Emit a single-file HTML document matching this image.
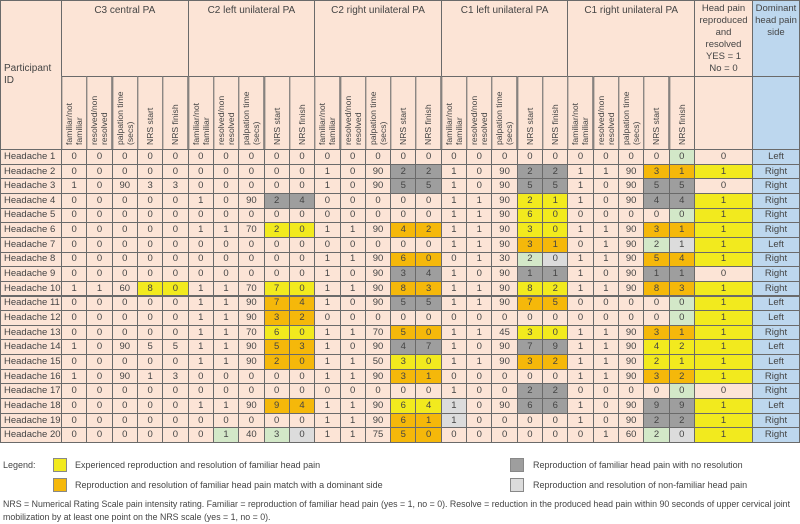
<!DOCTYPE html>
<html><head><meta charset="utf-8">
<style>
body{margin:0;width:800px;height:522px;background:#fff;font-family:"Liberation Sans",sans-serif;color:#444;position:relative;overflow:hidden}
.c{position:absolute;box-sizing:border-box;border:1px solid #6a6a6a;display:flex;align-items:center;justify-content:center;font-size:9.5px;text-align:center;line-height:1.25;background:#fce4d6}
.r{writing-mode:vertical-rl;transform:rotate(180deg);text-align:left;font-size:8.6px;line-height:1.2;justify-content:flex-start}
.lg{position:absolute;font-size:9px;color:#444;white-space:nowrap}
.sw{position:absolute;width:14px;height:14px;box-sizing:border-box;border:1px solid #888}
</style></head><body>
<div id="t"></div>
<div class="lg" style="left:3px;top:460px">Legend:</div>
<div class="sw" style="left:53px;top:458px;background:#f2ea1e"></div>
<div class="lg" style="left:75px;top:460px">Experienced reproduction and resolution of familiar head pain</div>
<div class="sw" style="left:53px;top:478px;background:#f5b80a"></div>
<div class="lg" style="left:75px;top:480px">Reproduction and resolution of familiar head pain match with a dominant side</div>
<div class="sw" style="left:510px;top:458px;background:#9e9e9e"></div>
<div class="lg" style="left:533px;top:460px">Reproduction of familiar head pain with no resolution</div>
<div class="sw" style="left:510px;top:478px;background:#dcdcdc"></div>
<div class="lg" style="left:533px;top:480px">Reproduction and resolution of non-familiar head pain</div>
<div class="lg" style="left:3px;top:498px;line-height:13px;font-size:8.8px">NRS = Numerical Rating Scale pain intensity rating. Familiar = reproduction of familiar head pain (yes = 1, no = 0). Resolve = reduction in the produced head pain within 90 seconds of upper cervical joint<br>mobilization by at least one point on the NRS scale (yes = 1, no = 0).</div>
<script>
const groups=["C3 central PA","C2 left unilateral PA","C2 right unilateral PA","C1 left unilateral PA","C1 right unilateral PA"];
const subs=["familiar/not<br>familiar","resolved/non<br>resolved","palpation time<br>(secs)","NRS start","NRS finish"];
const vals=[
"0 0 0 0 0 0 0 0 0 0 0 0 0 0 0 0 0 0 0 0 0 0 0 0 0 0 Left",
"0 0 0 0 0 0 0 0 0 0 1 0 90 2 2 1 0 90 2 2 1 1 90 3 1 1 Right",
"1 0 90 3 3 0 0 0 0 0 1 0 90 5 5 1 0 90 5 5 1 0 90 5 5 0 Right",
"0 0 0 0 0 1 0 90 2 4 0 0 0 0 0 1 1 90 2 1 1 0 90 4 4 1 Right",
"0 0 0 0 0 0 0 0 0 0 0 0 0 0 0 1 1 90 6 0 0 0 0 0 0 1 Right",
"0 0 0 0 0 1 1 70 2 0 1 1 90 4 2 1 1 90 3 0 1 1 90 3 1 1 Right",
"0 0 0 0 0 0 0 0 0 0 0 0 0 0 0 1 1 90 3 1 0 1 90 2 1 1 Left",
"0 0 0 0 0 0 0 0 0 0 1 1 90 6 0 0 1 30 2 0 1 1 90 5 4 1 Right",
"0 0 0 0 0 0 0 0 0 0 1 0 90 3 4 1 0 90 1 1 1 0 90 1 1 0 Right",
"1 1 60 8 0 1 1 70 7 0 1 1 90 8 3 1 1 90 8 2 1 1 90 8 3 1 Right",
"0 0 0 0 0 1 1 90 7 4 1 0 90 5 5 1 1 90 7 5 0 0 0 0 0 1 Left",
"0 0 0 0 0 1 1 90 3 2 0 0 0 0 0 0 0 0 0 0 0 0 0 0 0 1 Left",
"0 0 0 0 0 1 1 70 6 0 1 1 70 5 0 1 1 45 3 0 1 1 90 3 1 1 Right",
"1 0 90 5 5 1 1 90 5 3 1 0 90 4 7 1 0 90 7 9 1 1 90 4 2 1 Left",
"0 0 0 0 0 1 1 90 2 0 1 1 50 3 0 1 1 90 3 2 1 1 90 2 1 1 Left",
"1 0 90 1 3 0 0 0 0 0 1 1 90 3 1 0 0 0 0 0 1 1 90 3 2 1 Right",
"0 0 0 0 0 0 0 0 0 0 0 0 0 0 0 1 0 0 2 2 0 0 0 0 0 0 Right",
"0 0 0 0 0 1 1 90 9 4 1 1 90 6 4 1 0 90 6 6 1 0 90 9 9 1 Left",
"0 0 0 0 0 0 0 0 0 0 1 1 90 6 1 1 0 0 0 0 1 0 90 2 2 1 Right",
"0 0 0 0 0 0 1 40 3 0 1 1 75 5 0 0 0 0 0 0 0 1 60 2 0 1 Right"];
const cols=[
".....|.....|.....|.....|....n|.",
".....|.....|...gg|...gg|...oo|y",
".....|.....|...gg|...gg|...gg|.",
".....|...gg|.....|...yy|...gg|y",
".....|.....|.....|...yy|....n|y",
".....|...yy|...oo|...yy|...oo|y",
".....|.....|.....|...oo|...nl|y",
".....|.....|...oo|...nl|...oo|y",
".....|.....|...gg|...gg|...gg|.",
"...yy|...yy|...oo|...yy|...oo|y",
".....|...oo|...gg|...oo|....n|y",
".....|...oo|.....|.....|....n|y",
".....|...yy|...oo|...yy|...oo|y",
".....|...oo|...gg|...gg|...yy|y",
".....|...oo|...yy|...oo|...yy|y",
".....|.....|...oo|.....|...oo|y",
".....|.....|.....|...gg|....n|.",
".....|...oo|...yy|l..gg|...gg|y",
".....|.....|...oo|l....|...gg|y",
".....|.n.nl|...oo|.....|...nl|y"];
const pal={'.':'#fce4d6',y:'#f2ea1e',o:'#f5b80a',g:'#9e9e9e',l:'#dcdcdc',n:'#d3e8c8'};
const T=document.getElementById('t');
const X0=61,CW=25.32,Y0=149,RH=14.65;
function cell(x,y,w,h,txt,bg,cls){const d=document.createElement('div');d.className='c'+(cls?' '+cls:'');
d.style.left=x+'px';d.style.top=y+'px';d.style.width=(w+1)+'px';d.style.height=(h+1)+'px';d.style.background=bg;d.innerHTML=txt;T.appendChild(d);return d;}
let d=cell(0,0,X0,Y0,'Participant<br>ID','#fce4d6');d.style.justifyContent='flex-start';d.style.textAlign='left';d.style.padding='0 3px';d.style.fontSize='10px';


groups.forEach((g,i)=>{let e=cell(X0+i*5*CW,0,5*CW,76,g,'#fce4d6');e.style.alignItems='flex-start';e.style.paddingTop='4px';e.style.fontSize='10px';


subs.forEach((s,j)=>{let f=cell(X0+(i*5+j)*CW,76,CW,Y0-76,s,'#fce4d6','r');f.style.padding='4px 0';

});});
const XH=X0+25*CW;
let h=cell(XH,0,752-XH,76,'Head pain<br>reproduced<br>and<br>resolved<br>YES = 1<br>No = 0','#fce4d6');h.style.alignItems='flex-start';h.style.paddingTop='2px';h.style.fontSize='9.5px';h.style.lineHeight='12px';


let h2=cell(XH,76,752-XH,Y0-76,'','#fce4d6');


let s=cell(752,0,47,76,'Dominant<br>head pain<br>side','#bdd7ee');s.style.alignItems='flex-start';s.style.paddingTop='2px';s.style.fontSize='9.5px';s.style.lineHeight='12px';


let s2=cell(752,76,47,Y0-76,'','#bdd7ee');


vals.forEach((row,r)=>{const v=row.split(' ');const y=Y0+r*RH;const cc=cols[r].replace(/\|/g,'');
let p=cell(0,y,X0,RH,'Headache '+(r+1),'#fce4d6');p.style.justifyContent='flex-start';p.style.paddingLeft='3px';


for(let c=0;c<25;c++){let e=cell(X0+c*CW,y,CW,RH,v[c],pal[cc[c]]);

}
let hp=cell(XH,y,752-XH,RH,v[25],pal[cc[25]]);


let sd=cell(752,y,47,RH,v[26],'#bdd7ee');

});
</script>
</body></html>
